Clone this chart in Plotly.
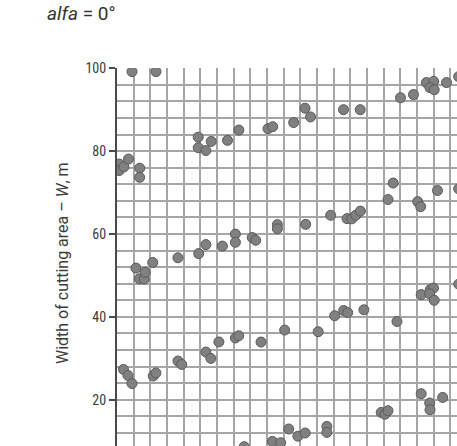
import plotly.graph_objects as go

# (x in grid units: one vertical grid cell = 4 units)
x_vals = [
    3.60, 9.36, 0.53, 0.53, 1.66, 2.76, 5.45, 5.45, 19.49, 19.49, 21.33, 22.61, 26.52, 29.25,
    36.24, 37.37, 42.40, 45.12, 46.44, 54.36, 58.36, 68.03, 71.15, 74.25, 76.00, 75.09, 76.12,
    79.07, 82.00,
    4.54, 5.38, 6.53, 6.77, 8.57, 14.62, 19.61, 21.33, 25.29, 28.41, 28.41, 32.45, 33.29,
    65.04, 66.28, 72.16, 72.88, 76.91, 82.00, 51.28, 45.28, 38.49, 38.49, 55.20, 56.37, 57.28, 58.41,
    1.56, 2.64, 3.60, 8.69, 9.34, 14.64, 15.53, 21.33, 22.53, 24.45, 28.41, 29.21, 34.56, 40.24,
    48.28, 52.24, 54.40, 55.36, 59.25, 67.19, 73.00, 75.16, 75.95, 75.04, 76.12, 82.00,
    30.53, 37.29, 39.28, 41.20, 43.41, 45.16, 50.37, 50.37, 63.40, 64.29, 65.04, 73.00, 75.04,
    75.11, 78.16,
]
y_vals = [
    99.18, 99.18, 76.87, 75.30, 76.19, 78.08, 75.88, 73.66, 83.36, 80.82, 80.13, 82.34, 82.59, 85.07,
    85.41, 85.89, 86.88, 90.35, 88.25, 89.99, 89.99, 92.88, 93.63, 96.53, 96.82, 95.32, 94.81,
    96.53, 97.97,
    51.76, 49.18, 49.11, 50.75, 53.11, 54.25, 55.26, 57.43, 57.07, 59.96, 57.98, 59.14, 58.47,
    68.31, 72.29, 67.80, 66.59, 70.48, 70.89, 64.50, 62.32, 62.25, 61.24, 63.70, 63.65, 64.50, 65.51,
    27.30, 25.86, 23.90, 25.71, 26.46, 29.33, 28.51, 31.50, 29.96, 33.94, 34.90, 35.43, 33.91, 36.81,
    36.40, 40.26, 41.51, 41.03, 41.70, 38.88, 45.37, 46.53, 46.94, 45.56, 43.99, 47.90,
    8.66, 9.94, 9.62, 12.93, 11.19, 11.96, 13.56, 12.11, 16.93, 16.50, 17.34, 21.44, 19.20,
    17.58, 20.55,
]
y_tick_vals = [20, 40, 60, 80, 100]
y_tick_text = ["20", "40", "60", "80", "100"]
title_text = "<i>alfa</i> = 0°"
y_title = "Width of cutting area – <i>W</i>, m"

L, T = 117, 68
W, H = 457, 446
px_per_unit_y = 4.146
px_per_unit_x = 4.167
plot_w = W - L
plot_h = H - T

fig = go.Figure()
fig.add_trace(go.Scatter(
    x=x_vals, y=y_vals, mode="markers",
    marker=dict(size=10, color="#808080", line=dict(color="#5a5a5a", width=1)),
    showlegend=False,
))

grid = "#a6a6a6"
fig.update_layout(
    width=W, height=H,
    margin=dict(l=L, r=0, t=T, b=0, pad=0),
    paper_bgcolor="white", plot_bgcolor="white",
    font=dict(family="Roboto, Liberation Sans, Arial", color="#3c3c3c"),
    title=dict(text=title_text, x=47 / W, xanchor="left", y=1 - 13 / H, yanchor="middle",
               font=dict(size=19, color="#333333")),
    xaxis=dict(range=[0, plot_w / px_per_unit_x], dtick=4, tick0=0, showticklabels=False,
               showgrid=True, gridcolor=grid, gridwidth=1.5, zeroline=False, showline=False),
    yaxis=dict(range=[100 - plot_h / px_per_unit_y, 100.05], tickvals=y_tick_vals, ticktext=y_tick_text,
               showgrid=True, gridcolor=grid, gridwidth=1.5, zeroline=False,
               showline=True, linecolor="#4a4a4a", linewidth=2,
               ticks="outside", ticklen=6, tickwidth=1.5, tickcolor="#4a4a4a",
               tickfont=dict(size=14, family="Liberation Sans Narrow, Roboto Condensed, Roboto", color="#3c3c3c"),
               minor=dict(dtick=4, tick0=0, showgrid=True, gridcolor=grid, gridwidth=1.5)),
    annotations=[dict(text=y_title, xref="paper", yref="paper",
                      x=(62 - L) / plot_w, y=(H - 263) / plot_h, textangle=-90,
                      showarrow=False, xanchor="center", yanchor="middle",
                      font=dict(size=16, color="#3c3c3c"))],
)

fig.write_html("out.html")
